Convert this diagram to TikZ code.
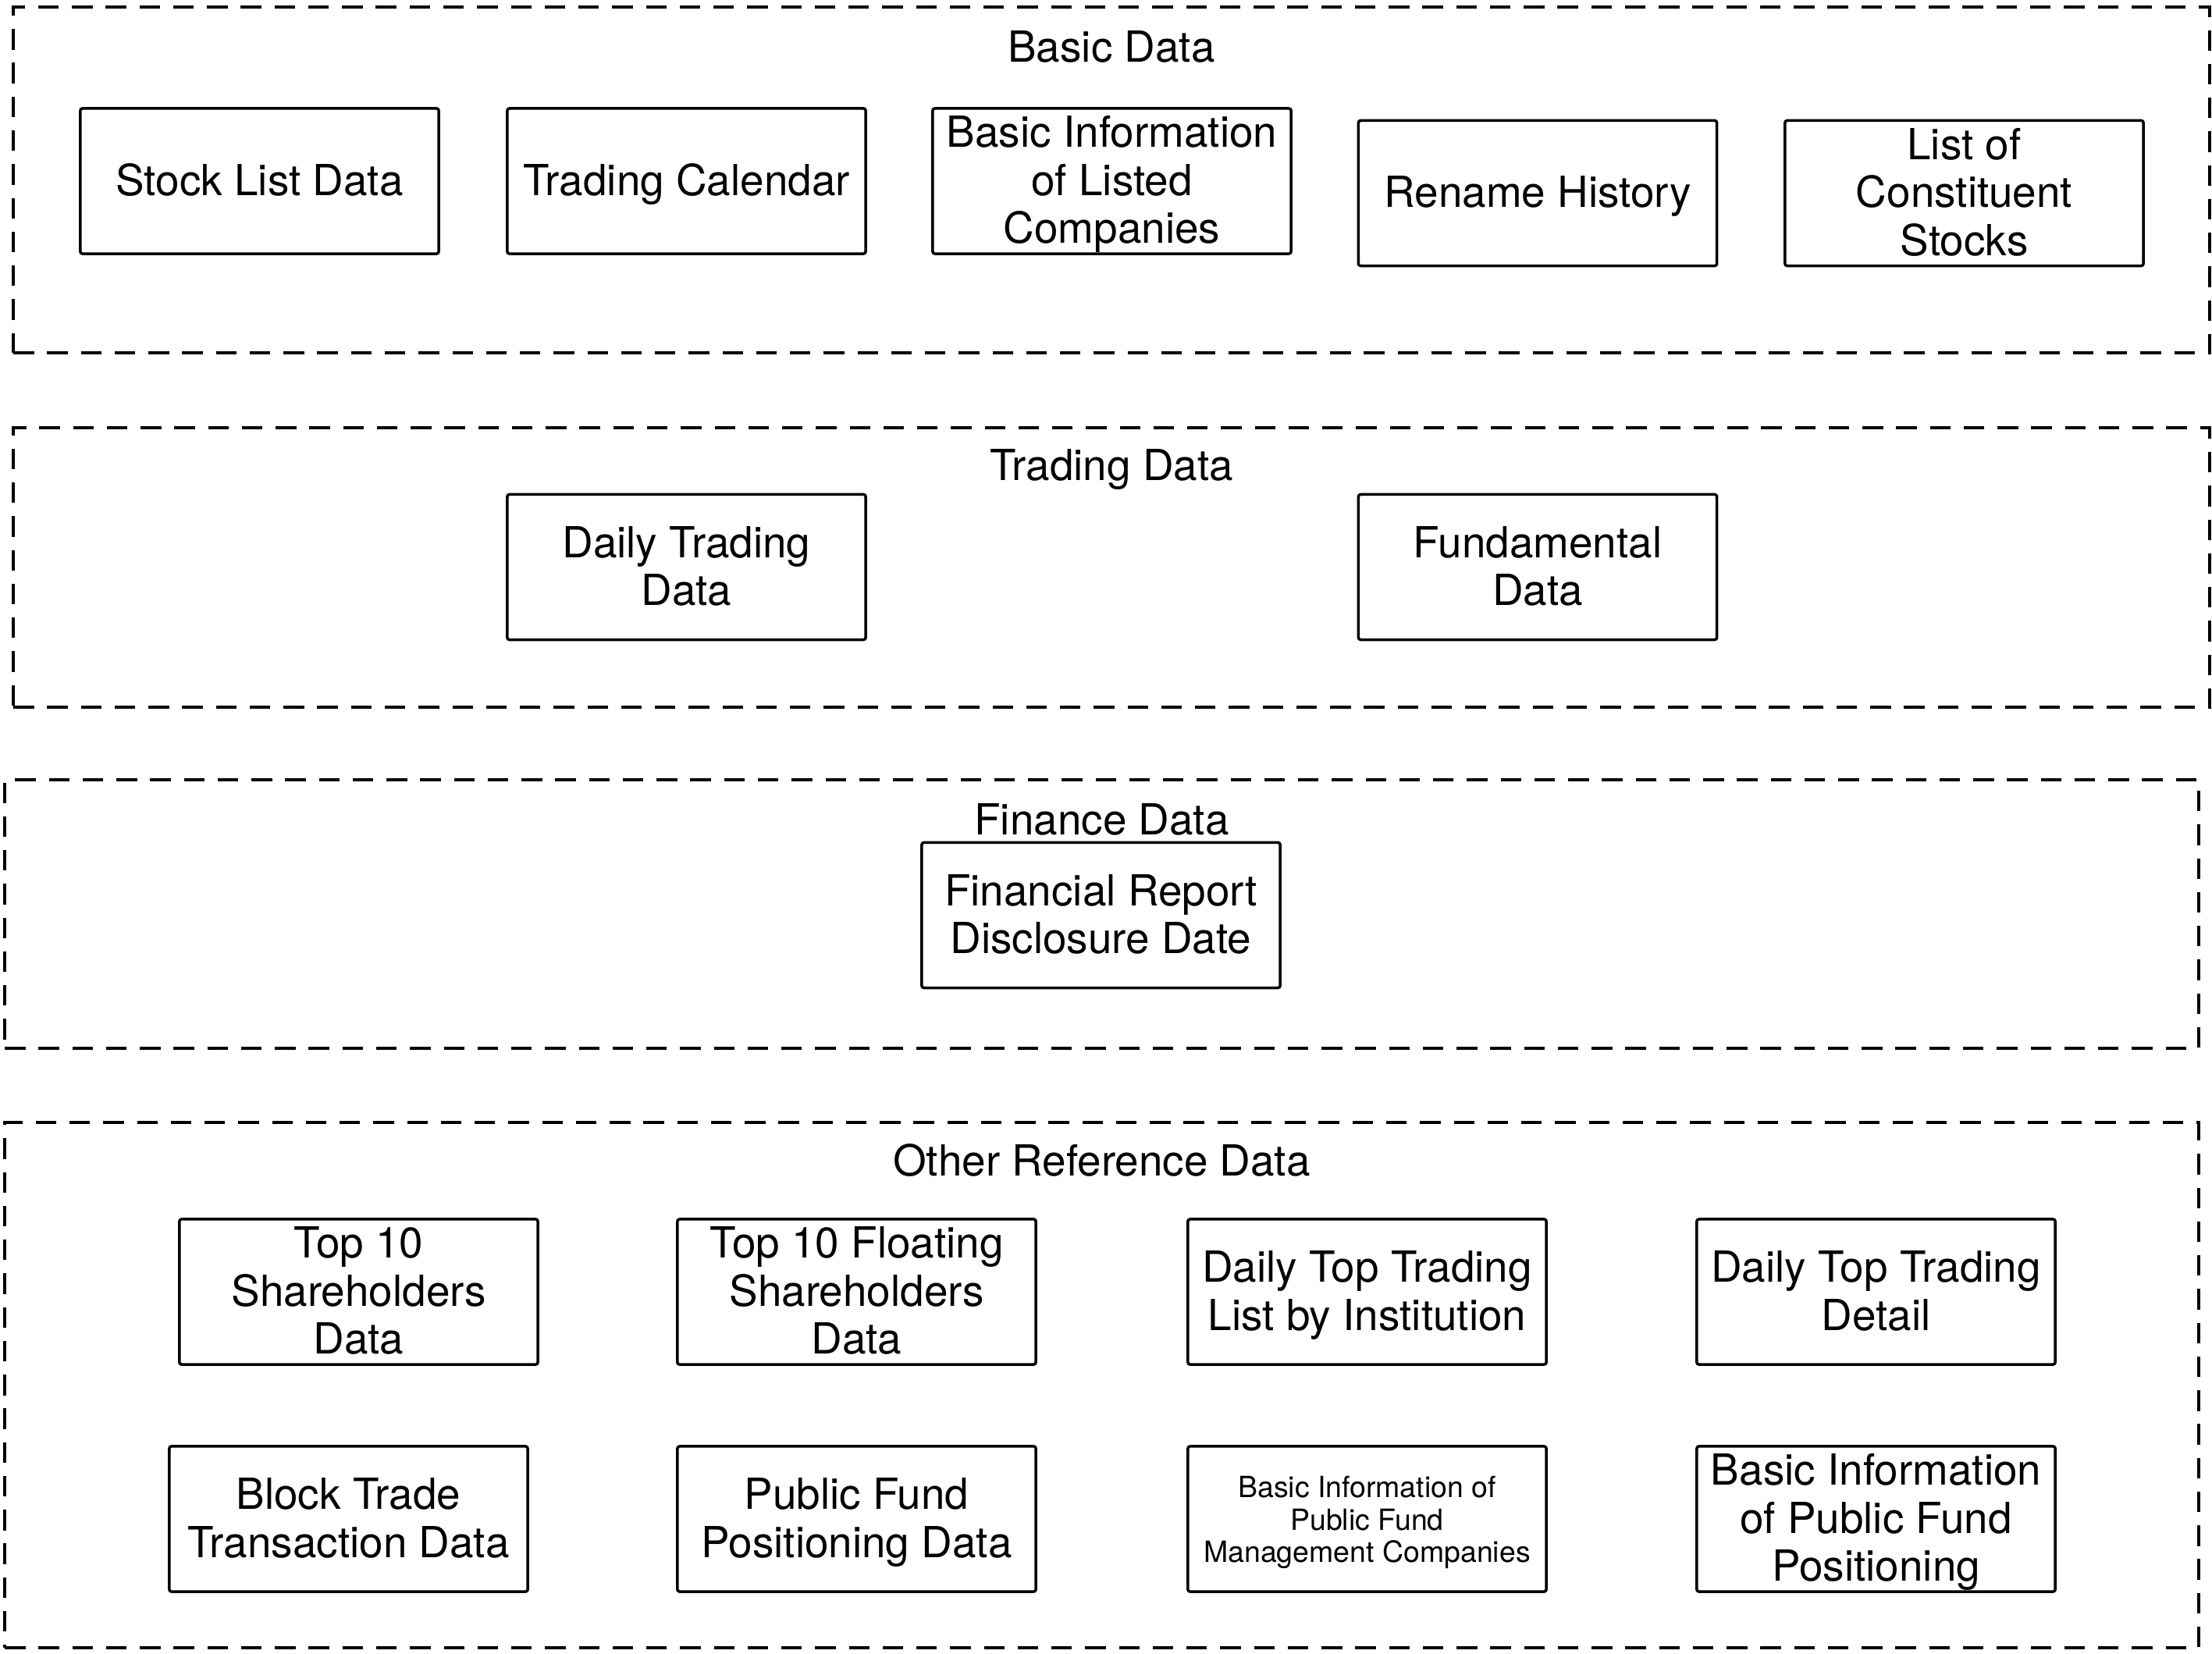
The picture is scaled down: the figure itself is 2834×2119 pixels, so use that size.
\documentclass[tikz,border=0pt]{standalone}
\usepackage{fontspec}
\setmainfont{TeX Gyre Heros}
\begin{document}
\begin{tikzpicture}[x=0.01cm,y=-0.01cm,
  framebox/.style={draw,line width=1.1pt,dash pattern=on 7.5pt off 4.8pt,inner sep=0pt},
  databox/.style={draw,line width=1pt,rounded corners=0.8pt,minimum width=4.59cm,minimum height=1.86cm,align=center,inner sep=0pt,font=\fontsize{15.6}{17.5}\selectfont,text depth=0.6pt},
  lone/.style={databox,text height=11pt},
  ltwo/.style={databox,text height=28.5pt},
  lthree/.style={databox,text height=46pt},
  smallbox/.style={databox,font=\fontsize{10.65}{11.8}\selectfont,text height=32.2pt,text depth=0.4pt},
  title/.style={anchor=base,inner sep=0pt,font=\fontsize{15.6}{17.5}\selectfont}]
\useasboundingbox (0,0) rectangle (2834,2119);

% frames
\node[framebox,minimum width=28.12cm,minimum height=4.43cm] (f1) at (1424,230.5) {};
\node[framebox,minimum width=28.12cm,minimum height=3.58cm] (f2) at (1424,727) {};
\node[framebox,minimum width=28.09cm,minimum height=3.44cm] (f3) at (1411.5,1171) {};
\node[framebox,minimum width=28.09cm,minimum height=6.73cm] (f4) at (1411.5,1774.5) {};

% titles
\node[title] (t1) at (1424,80) {Basic Data};
\node[title] (t2) at (1424,616) {Trading Data};
\node[title] (t3) at (1411.5,1069) {Finance Data};
\node[title] (t4) at (1411.5,1506) {Other Reference Data};

% Basic Data
\node[lone] (b1) at (332.5,232) {Stock List Data};
\node[lone] (b2) at (879.5,232) {Trading Calendar};
\node[lthree] (b3) at (1424.5,232) {Basic Information\\of Listed\\Companies};
\node[lone] (b4) at (1970,247.5) {Rename History};
\node[lthree] (b5) at (2516.5,247.5) {List of\\Constituent\\Stocks};

% Trading Data
\node[ltwo] (d1) at (879.5,726.5) {Daily Trading\\Data};
\node[ltwo] (d2) at (1970,726.5) {Fundamental\\Data};

% Finance Data
\node[ltwo] (n1) at (1410.5,1172.5) {Financial Report\\Disclosure Date};

% Other Reference Data
\node[lthree] (o1) at (459.5,1655) {Top 10\\Shareholders\\Data};
\node[lthree] (o2) at (1097.5,1655) {Top 10 Floating\\Shareholders\\Data};
\node[ltwo] (o3) at (1751.5,1655) {Daily Top Trading\\List by Institution};
\node[ltwo] (o4) at (2403.5,1655) {Daily Top Trading\\Detail};
\node[ltwo] (o5) at (446.5,1946) {Block Trade\\Transaction Data};
\node[ltwo] (o6) at (1097.5,1946) {Public Fund\\Positioning Data};
\node[smallbox] (o7) at (1751.5,1946) {Basic Information of\\Public Fund\\Management Companies};
\node[lthree] (o8) at (2403.5,1946) {Basic Information\\of Public Fund\\Positioning};
\end{tikzpicture}
\end{document}
